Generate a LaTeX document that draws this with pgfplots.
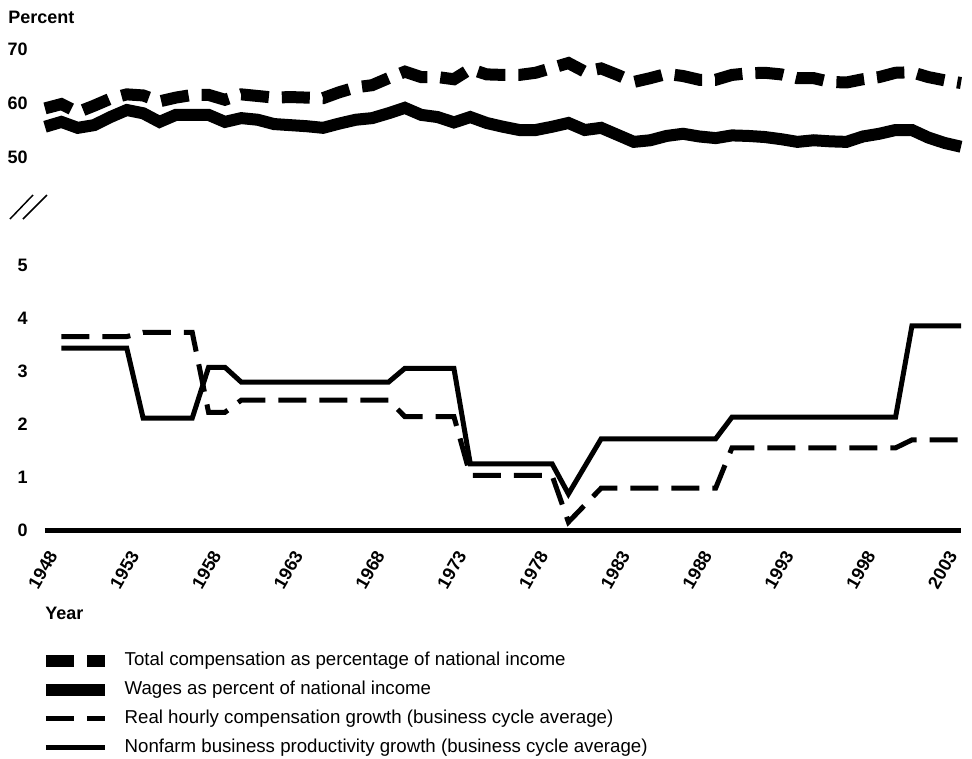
\documentclass[border=0pt]{standalone}
\usepackage{pgfplots}
\pgfplotsset{compat=1.18}
\usepackage{fontspec}
\setmainfont{Liberation Sans}
\begin{document}
\begin{tikzpicture}
\path[use as bounding box] (-33.75pt,-171pt) rectangle (695.25pt,397.5pt);
\pgfplotsset{
  common/.style={
    scale only axis, width=687pt, xmin=1948, xmax=2004,
    clip=false,
    tick style={draw=none},
    /pgf/number format/assume math mode=true,
    /pgf/number format/1000 sep={},
    ticklabel style={font=\bfseries\fontsize{13.5}{16}\selectfont},
    yticklabel style={anchor=east, inner sep=0pt, xshift=-12.75pt},
    axis x line*=bottom, axis y line*=left,
    y axis line style={draw=none},
  },
  thickdash/.style={line width=9pt, dash pattern=on 21pt off 9.75pt},
  thicksolid/.style={line width=9pt},
  thindash/.style={line width=3.75pt, dash pattern=on 21pt off 9.75pt},
  thinsolid/.style={line width=3.75pt},
}
% lower axis: growth rates
\begin{axis}[common, at={(0pt,0pt)}, anchor=south west, height=198.75pt,
  ymin=0, ymax=5,
  x axis line style={line width=3.75pt},
  xtick={1948,1953,...,2003},
  xticklabel style={inner sep=0pt, anchor=east, xshift=6pt, yshift=-16.5pt, rotate=60},
  ytick={0,1,2,3,4,5},
  legend style={draw=none, fill=none, at={(axis description cs:0,0)}, anchor=north west,
    xshift=-3.75pt, yshift=-91.25pt, inner sep=0pt, outer sep=0pt,
    font=\fontsize{14}{16}\selectfont, column sep=10.5pt, row sep=8.25pt,
    nodes={inner sep=0pt, text height=10.5pt, text depth=3pt}},
  legend cell align=left,
  legend image code/.code={\draw[#1] (0pt,0pt) -- (44pt,0pt);},
]
\addlegendimage{thickdash}
\addlegendentry{Total compensation as percentage of national income}
\addlegendimage{thicksolid}
\addlegendentry{Wages as percent of national income}
\addplot[thindash] coordinates {
(1949,3.65) (1953,3.65) (1954,3.73) (1957,3.73) (1958,2.22) (1959,2.22)
(1960,2.45) (1969,2.45) (1970,2.14) (1973,2.14) (1974,1.03) (1979,1.03)
(1980,0.15) (1982,0.79) (1989,0.79) (1990,1.55) (2000,1.55) (2001,1.70) (2004,1.70)};
\addlegendentry{Real hourly compensation growth (business cycle average)}
\addplot[thinsolid] coordinates {
(1949,3.43) (1953,3.43) (1954,2.11) (1957,2.11) (1958,3.07) (1959,3.07)
(1960,2.79) (1969,2.79) (1970,3.05) (1973,3.05) (1974,1.25) (1979,1.25)
(1980,0.68) (1982,1.72) (1989,1.72) (1990,2.13) (2000,2.13) (2001,3.85) (2004,3.85)};
\addlegendentry{Nonfarm business productivity growth (business cycle average)}
\end{axis}
% upper axis: shares of national income
\begin{axis}[common, at={(0pt,279.75pt)}, anchor=south west, height=81pt,
  ymin=50, ymax=70,
  x axis line style={draw=none},
  xtick=\empty,
  ytick={50,60,70},
]
\addplot[thickdash] coordinates {
(1948,59.0) (1949,59.8) (1950,58.3) (1951,59.5) (1952,60.8) (1953,61.6)
(1954,61.4) (1955,60.3) (1956,61.0) (1957,61.5) (1958,61.5) (1959,60.6)
(1960,61.6) (1961,61.3) (1962,61.0) (1963,61.1) (1964,61.0) (1965,60.9)
(1966,62.0) (1967,62.9) (1968,63.3) (1969,64.6) (1970,65.8) (1971,64.8)
(1972,64.8) (1973,64.4) (1974,66.3) (1975,65.3) (1976,65.2) (1977,65.2)
(1978,65.6) (1979,66.5) (1980,67.4) (1981,65.8) (1982,66.4) (1983,65.2)
(1984,63.9) (1985,64.6) (1986,65.4) (1987,65.0) (1988,64.3) (1989,64.3)
(1990,65.2) (1991,65.5) (1992,65.6) (1993,65.3) (1994,64.6) (1995,64.6)
(1996,63.9) (1997,63.8) (1998,64.4) (1999,64.8) (2000,65.6) (2001,65.7)
(2002,64.8) (2003,64.2) (2004,63.7)};
\addplot[thicksolid] coordinates {
(1948,55.6) (1949,56.5) (1950,55.4) (1951,55.9) (1952,57.4) (1953,58.7)
(1954,58.1) (1955,56.5) (1956,57.8) (1957,57.8) (1958,57.8) (1959,56.5)
(1960,57.2) (1961,56.9) (1962,56.1) (1963,55.9) (1964,55.7) (1965,55.4)
(1966,56.2) (1967,56.9) (1968,57.2) (1969,58.1) (1970,59.1) (1971,57.8)
(1972,57.4) (1973,56.4) (1974,57.4) (1975,56.3) (1976,55.6) (1977,55.0)
(1978,55.0) (1979,55.6) (1980,56.3) (1981,55.0) (1982,55.4) (1983,54.1)
(1984,52.8) (1985,53.1) (1986,53.9) (1987,54.3) (1988,53.8) (1989,53.5)
(1990,54.0) (1991,53.9) (1992,53.7) (1993,53.3) (1994,52.8) (1995,53.1)
(1996,52.9) (1997,52.8) (1998,53.8) (1999,54.3) (2000,55.0) (2001,55.0)
(2002,53.6) (2003,52.6) (2004,51.9)};
\end{axis}
% axis break mark
\draw[line width=1.1pt] (-26.25pt,233.25pt) -- (-9pt,251.25pt);
\draw[line width=1.1pt] (-16.5pt,233.25pt) -- (1.5pt,251.25pt);
% titles
\node[anchor=west, inner sep=0pt, font=\bfseries\fontsize{13.5}{16}\selectfont] at (-27.75pt,384.75pt) {Percent};
\node[anchor=west, inner sep=0pt, font=\bfseries\fontsize{13.5}{16}\selectfont] at (0pt,-62.25pt) {Year};
\end{tikzpicture}
\end{document}
